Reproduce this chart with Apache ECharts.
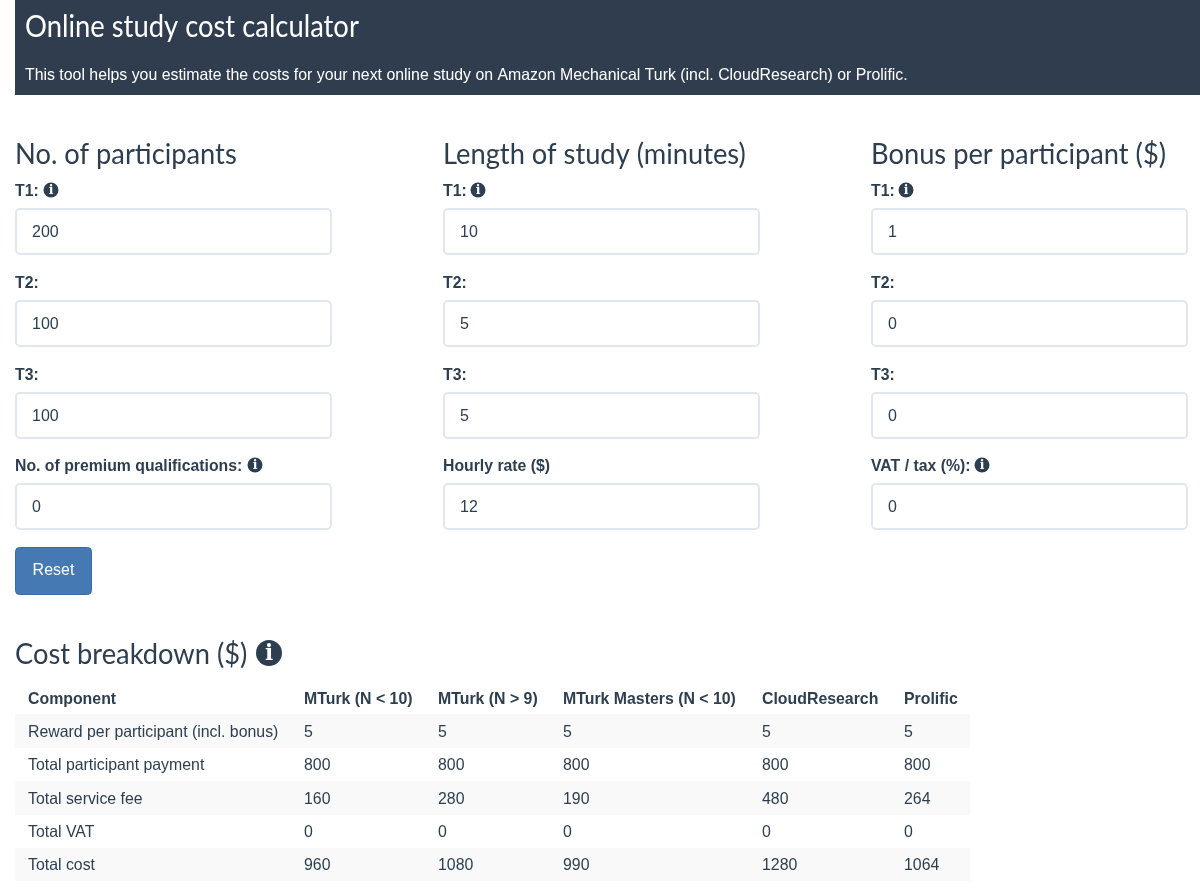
<!DOCTYPE html>
<html>
<head>
<meta charset="utf-8">
<title>Online study cost calculator</title>
<script src="https://cdn.jsdelivr.net/npm/echarts@6/dist/echarts.min.js"></script>
<style>
html, body { margin: 0; padding: 0; background: #fff; }
#chart { width: 1200px; height: 889px; }
</style>
</head>
<body>
<div id="chart"></div>
<script>
var pageTitle = 'Online study cost calculator';
var pageIntro = 'This tool helps you estimate the costs for your next online study on Amazon Mechanical Turk (incl. CloudResearch) or Prolific.';

var formHeadings = ['No. of participants', 'Length of study (minutes)', 'Bonus per participant ($)'];
var formLabels = [
  ['T1:', 'T2:', 'T3:', 'No. of premium qualifications:'],
  ['T1:', 'T2:', 'T3:', 'Hourly rate ($)'],
  ['T1:', 'T2:', 'T3:', 'VAT / tax (%):']
];
var formValues = [
  ['200', '100', '100', '0'],
  ['10', '5', '5', '12'],
  ['1', '0', '0', '0']
];

var tableHeader = ['Component', 'MTurk (N < 10)', 'MTurk (N > 9)', 'MTurk Masters (N < 10)', 'CloudResearch', 'Prolific'];
var components = ['Reward per participant (incl. bonus)', 'Total participant payment', 'Total service fee', 'Total VAT', 'Total cost'];
var mturkSmall = [5, 800, 160, 0, 960];
var mturkLarge = [5, 800, 280, 0, 1080];
var mturkMasters = [5, 800, 190, 0, 990];
var cloudResearch = [5, 800, 480, 0, 1280];
var prolific = [5, 800, 264, 0, 1064];

var dark = '#2c3e50';
var sans = '"Liberation Sans", Arial, sans-serif';
var colX = [15, 443, 871];
var rowLabelY = [192, 284, 376, 467];
var rowInputY = [208, 300, 392, 483];
var tableColX = [28, 304, 438, 563, 762, 904];
var tableRowY = [732.5, 765.5, 799.5, 832.5, 865.5];

var els = [];

function text(str, x, y, size, opts) {
  opts = opts || {};
  els.push({
    type: 'text',
    x: x,
    y: y,
    z: 5,
    scaleX: opts.scaleX || 1,
    style: {
      text: str,
      fill: opts.fill || dark,
      font: (opts.bold ? 'bold ' : '') + size + 'px ' + (opts.family || sans),
      align: opts.align || 'left',
      verticalAlign: 'middle'
    }
  });
}

function infoIcon(x, y, r) {
  els.push({ type: 'circle', z: 5, shape: { cx: x, cy: y, r: r }, style: { fill: dark } });
  text('i', x, y + r * 0.08, r * 1.65, { fill: '#fff', bold: true, family: '"DejaVu Serif", serif', align: 'center' });
}

// header band
els.push({ type: 'rect', shape: { x: 15, y: 0, width: 1185, height: 95 }, style: { fill: '#2f3d4f' } });
text(pageTitle, 25, 27, 30, { fill: '#fff', family: 'Lato', scaleX: 0.913 });
text(pageIntro, 25, 75.5, 15.87, { fill: '#fff' });

// three form columns
formHeadings.forEach(function (heading, c) {
  text(heading, colX[c], 155, 29, { family: 'Lato', scaleX: 0.941 });
  formLabels[c].forEach(function (label, r) {
    text(label, colX[c], rowLabelY[r], 15.8, { bold: true });
    els.push({
      type: 'rect',
      shape: { x: colX[c] + 1, y: rowInputY[r] + 1, width: 315, height: 45, r: 4 },
      style: { fill: '#fff', stroke: '#e1e7ee', lineWidth: 2 }
    });
    text(formValues[c][r], colX[c] + 17, rowInputY[r] + 25, 16);
  });
});
infoIcon(51, 190, 7.5);
infoIcon(478, 190, 7.5);
infoIcon(906, 190, 7.5);
infoIcon(255, 465, 7.5);
infoIcon(982, 465, 7.5);

// reset button
els.push({
  type: 'rect',
  shape: { x: 15.5, y: 547.5, width: 76, height: 47, r: 4 },
  style: { fill: '#4479b3', stroke: '#3a6b9f', lineWidth: 1 }
});
text('Reset', 53.5, 571, 16, { fill: '#fff', align: 'center' });

// cost table
text('Cost breakdown ($)', 15, 655, 29, { family: 'Lato', scaleX: 0.941 });
infoIcon(269, 653, 13);

[[714, 34], [781, 34], [848, 33]].forEach(function (band) {
  els.push({ type: 'rect', shape: { x: 15, y: band[0], width: 955, height: band[1] }, style: { fill: '#f9f9f9' } });
});

tableHeader.forEach(function (name, c) {
  text(name, tableColX[c], 699.5, 15.87, { bold: true });
});
var tableCols = [components, mturkSmall, mturkLarge, mturkMasters, cloudResearch, prolific];
tableCols.forEach(function (col, c) {
  col.forEach(function (v, r) {
    text(String(v), tableColX[c], tableRowY[r], 15.87);
  });
});

var myChart = echarts.init(document.getElementById('chart'));
myChart.setOption({
  backgroundColor: '#fff',
  animation: false,
  graphic: { elements: els }
});
</script>
</body>
</html>
